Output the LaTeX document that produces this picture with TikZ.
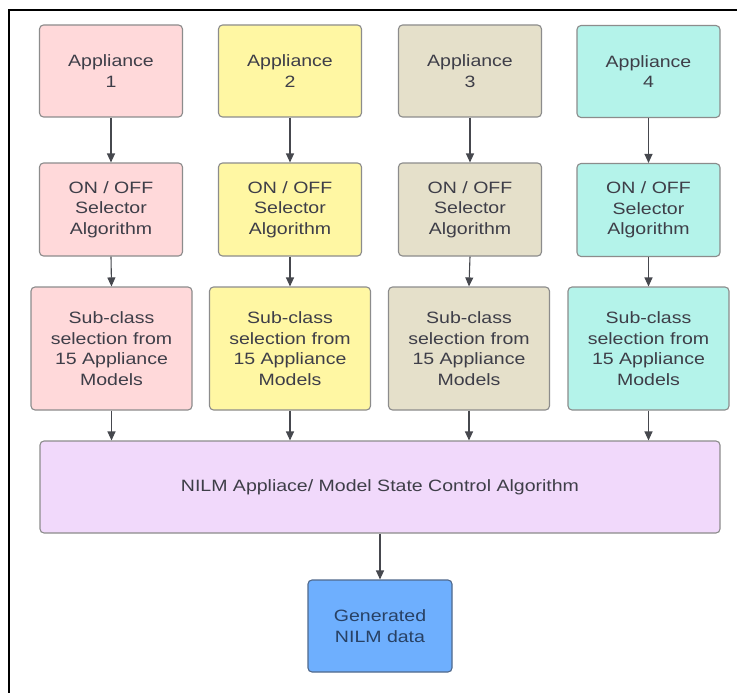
\documentclass[tikz,border=0pt]{standalone}
\usepackage{fontspec}
\usetikzlibrary{arrows.meta}
\newfontfamily\diafont[FakeStretch=1.19]{Liberation Sans}
\definecolor{cpink}{RGB}{255,217,218}
\definecolor{cyel}{RGB}{255,247,163}
\definecolor{cbeige}{RGB}{229,224,202}
\definecolor{ccyan}{RGB}{180,243,234}
\definecolor{clav}{RGB}{241,217,251}
\definecolor{cblue}{RGB}{110,175,254}
\definecolor{cborder}{RGB}{140,140,140}
\definecolor{cbblue}{RGB}{80,105,140}
\definecolor{ctext}{RGB}{62,62,72}
\definecolor{cbtext}{RGB}{40,65,100}
\definecolor{carrow}{RGB}{70,72,78}
\tikzset{
  box/.style={draw=cborder, line width=1.1pt, rounded corners=4pt, align=center,
    inner sep=0pt, text=ctext, font=\diafont\fontsize{16.4}{20.5}\selectfont},
  smallbox/.style={box, minimum width=143pt, minimum height=92pt},
  subbox/.style={box, minimum width=161pt, minimum height=123pt},
  arr/.style={draw=carrow, line width=1.1pt, -{Triangle[length=9pt,width=8pt]}},
  framel/.style={draw=black, line width=2pt}
}
\begin{document}
\begin{tikzpicture}[x=1pt,y=-1pt]
\useasboundingbox (0,0) rectangle (737,693);
\fill[white] (0,0) rectangle (737,693);
\coordinate (fA) at (8.5,693);
\coordinate (fB) at (8.5,10.5);
\coordinate (fC) at (737,10.5);
\draw[framel] (fA) -- (fB) -- (fC);

% row 1
\node[smallbox, fill=cpink]  (a1) at (111,71) {Appliance\\1};
\node[smallbox, fill=cyel]   (a2) at (290,71) {Appliance\\2};
\node[smallbox, fill=cbeige] (a3) at (470,71) {Appliance\\3};
\node[smallbox, fill=ccyan]  (a4) at (648.5,71.5) {Appliance\\4};
% row 2
\node[smallbox, fill=cpink, minimum height=93pt]  (s1) at (111,209.5) {ON / OFF\\Selector\\Algorithm};
\node[smallbox, fill=cyel, minimum height=93pt]   (s2) at (290,209.5) {ON / OFF\\Selector\\Algorithm};
\node[smallbox, fill=cbeige, minimum height=93pt] (s3) at (470,209.5) {ON / OFF\\Selector\\Algorithm};
\node[smallbox, fill=ccyan, minimum height=93pt]  (s4) at (648.5,210) {ON / OFF\\Selector\\Algorithm};
% row 3
\node[subbox, fill=cpink]  (m1) at (111.5,348.5) {Sub-class\\selection from\\15 Appliance\\Models};
\node[subbox, fill=cyel]   (m2) at (290,348.5) {Sub-class\\selection from\\15 Appliance\\Models};
\node[subbox, fill=cbeige] (m3) at (469,348.5) {Sub-class\\selection from\\15 Appliance\\Models};
\node[subbox, fill=ccyan]  (m4) at (648.5,348.5) {Sub-class\\selection from\\15 Appliance\\Models};
% row 4
\node[box, fill=clav, minimum width=680pt, minimum height=92pt] (ctl) at (380,487) {NILM Appliace/ Model State Control Algorithm};
% row 5
\node[box, fill=cblue, draw=cbblue, text=cbtext, minimum width=144pt, minimum height=92pt] (gen) at (380,626) {Generated\\NILM data};

% arrows
\foreach \i in {1,2,3,4}{
  \draw[arr] (a\i.south) -- (s\i.north);
  \draw[arr] (s\i.south) -- (m\i.north);
  \draw[arr] (m\i.south) -- (m\i.south |- ctl.north);
}
\draw[arr] (ctl.south) -- (gen.north);
\end{tikzpicture}
\end{document}
